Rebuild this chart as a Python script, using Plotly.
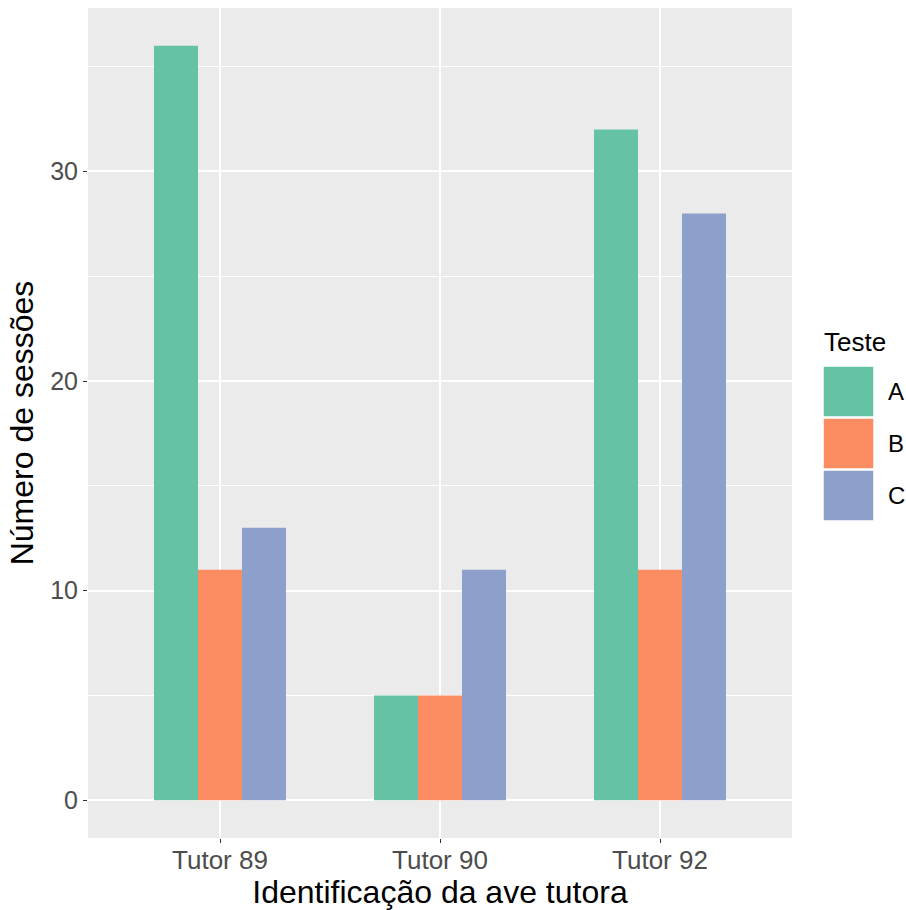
import plotly.graph_objects as go

categories = ["Tutor 89", "Tutor 90", "Tutor 92"]
series_names = ["A", "B", "C"]
values_A = [36, 5, 32]
values_B = [11, 5, 11]
values_C = [13, 11, 28]
colors = ["#66C2A5", "#FC8D62", "#8DA0CB"]
y_ticks = [0, 10, 20, 30]

FONT = "Liberation Sans, Arial, sans-serif"
W, H = 906, 910
L, R, T, B = 88, 114, 8, 72
pw, ph = W - L - R, H - T - B

fig = go.Figure()
for name, vals, col in zip(series_names, [values_A, values_B, values_C], colors):
    fig.add_trace(go.Bar(x=categories, y=vals, name=name, marker=dict(color=col, line=dict(width=0)),
                         showlegend=False))

def px2x(px):
    return (px - L) / pw

def py2y(py):
    return (H - B - py) / ph

shapes = []
annotations = []
# manual legend
key_tops = [366, 418, 470]
key_h = 51
for name, col, top in zip(series_names, colors, key_tops):
    shapes.append(dict(type="rect", xref="paper", yref="paper",
                       x0=px2x(823), x1=px2x(874), y0=py2y(top + key_h), y1=py2y(top),
                       fillcolor=col, line=dict(color="white", width=1.5), layer="above"))
    annotations.append(dict(text=name, xref="paper", yref="paper", x=px2x(886), y=py2y(top + key_h / 2),
                            xanchor="left", yanchor="middle", showarrow=False,
                            font=dict(family=FONT, size=24, color="black")))
annotations.append(dict(text="Teste", xref="paper", yref="paper", x=px2x(822), y=py2y(342),
                        xanchor="left", yanchor="middle", showarrow=False,
                        font=dict(family=FONT, size=26, color="black")))

fig.update_layout(
    width=W, height=H,
    margin=dict(l=L, r=R, t=T, b=B, autoexpand=False),
    paper_bgcolor="white", plot_bgcolor="#EBEBEB",
    barmode="group", bargap=0.4, bargroupgap=0,
    font=dict(family=FONT),
    shapes=shapes, annotations=annotations,
    xaxis=dict(
        range=[-0.6, 2.6], showgrid=True, gridcolor="white", gridwidth=1.5,
        ticks="outside", ticklen=4, tickwidth=1.2, tickcolor="#333333",
        tickfont=dict(family=FONT, size=26, color="#4D4D4D"), ticklabelstandoff=-5,
        title=dict(text="Identificação da ave tutora", font=dict(family=FONT, size=32, color="black"), standoff=7),
        zeroline=False, showline=False, automargin=False,
    ),
    yaxis=dict(
        range=[-1.8, 37.8], tickvals=y_ticks, showgrid=True, gridcolor="white", gridwidth=1.5,
        minor=dict(dtick=5, tick0=0, showgrid=True, gridcolor="white", gridwidth=0.7),
        ticks="outside", ticklen=4, tickwidth=1.2, tickcolor="#333333",
        tickfont=dict(family=FONT, size=25, color="#4D4D4D"),
        title=dict(text="Número de sessões", font=dict(family=FONT, size=32, color="black"), standoff=6),
        zeroline=False, showline=False, automargin=False,
    ),
)

fig.write_html("out.html", config={"displayModeBar": False})
with open("out.html", "r", encoding="utf-8") as f:
    html = f.read()
html = html.replace("<head>", "<head><style>html,body{margin:0;padding:0;overflow:hidden;}</style>", 1)
with open("out.html", "w", encoding="utf-8") as f:
    f.write(html)
